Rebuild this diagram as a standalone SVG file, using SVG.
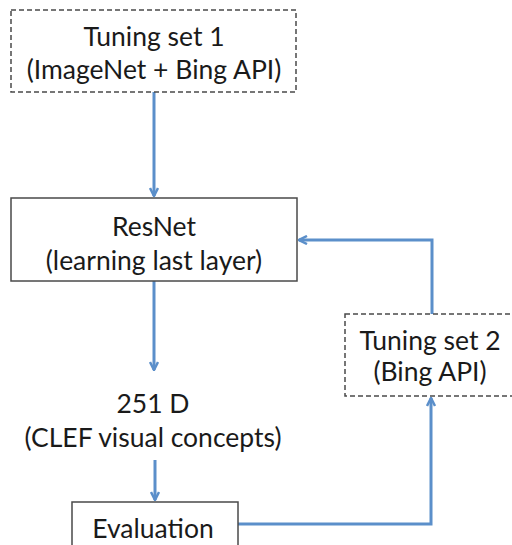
<svg xmlns="http://www.w3.org/2000/svg" width="512" height="545" viewBox="0 0 512 545">
<style>
.box{fill:#fff;stroke:#4a4a4a;stroke-width:1.5}
.dash{stroke-dasharray:5 3}
.t{font-family:Lato,"Open Sans",sans-serif;font-size:26.5px;fill:#1a1a1a;text-anchor:middle}
.c{fill:none;stroke:#5b8fca;stroke-width:3}
</style>
<defs>
<marker id="ah" viewBox="0 0 10 10" refX="9" refY="5" markerWidth="10" markerHeight="10" markerUnits="userSpaceOnUse" orient="auto">
<polyline points="1,1 9,5 1,9" fill="none" stroke="#5b8fca" stroke-width="2.5"/>
</marker>
</defs>
<g id="connectors">
<line class="c" x1="154" y1="92" x2="154" y2="196" marker-end="url(#ah)"/>
<line class="c" x1="154" y1="281" x2="154" y2="370" marker-end="url(#ah)"/>
<line class="c" x1="155" y1="460" x2="155" y2="500" marker-end="url(#ah)"/>
<polyline class="c" points="432,314 432,240 299,240" marker-end="url(#ah)"/>
<polyline class="c" points="238,524 431,524 431,398" marker-end="url(#ah)"/>
</g>
<g id="tuning1">
<rect class="box dash" x="11" y="10" width="285" height="82"/>
<text class="t" x="154" y="46">Tuning set 1</text>
<text class="t" x="154" y="79">(ImageNet + Bing API)</text>
</g>
<g id="resnet">
<rect class="box" x="11" y="198" width="286" height="83"/>
<text class="t" x="154" y="236">ResNet</text>
<text class="t" x="154" y="270">(learning last layer)</text>
</g>
<g id="dim">
<text class="t" x="153" y="413">251 D</text>
<text class="t" x="153" y="447">(CLEF visual concepts)</text>
</g>
<g id="tuning2">
<rect class="box dash" x="345" y="314" width="180" height="82"/>
<text class="t" x="430" y="350">Tuning set 2</text>
<text class="t" x="430" y="381">(Bing API)</text>
</g>
<g id="evaluation">
<rect class="box" x="72" y="502" width="166" height="60"/>
<text class="t" x="153" y="538">Evaluation</text>
</g>
</svg>
